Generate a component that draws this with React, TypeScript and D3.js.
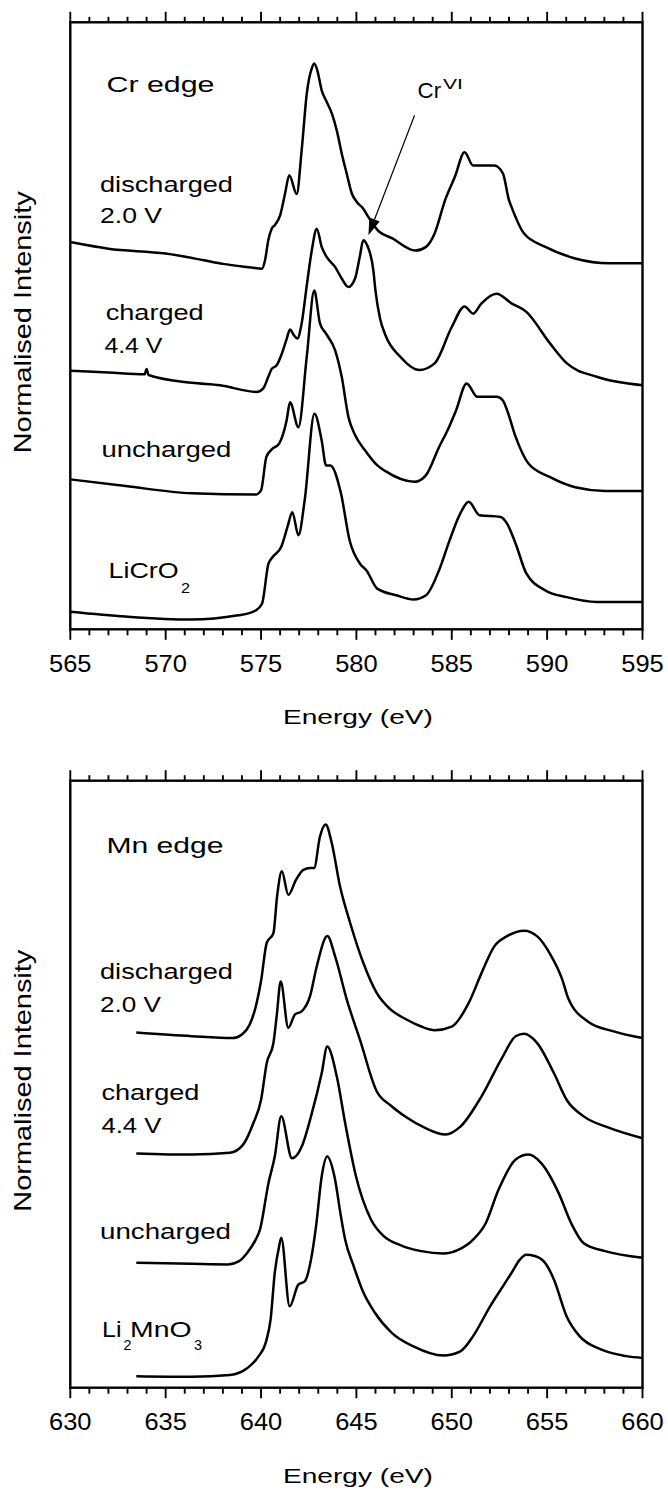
import React from 'react';
import * as d3 from 'd3';

type Pt = [number, number];

// Energy axis tick labels (eV)
const crEnergyTicks = [565, 570, 575, 580, 585, 590, 595];
const mnEnergyTicks = [630, 635, 640, 645, 650, 655, 660];

// Cr L-edge spectra: [energy (eV), normalised intensity, vertically offset]
const crDischarged: Pt[] = [
  [565, 6.38], [567, 6.27], [570, 6.19], [572, 6.08], [573, 6.02], [574.5, 5.96], [575.04, 5.94],
  [575.21, 6.08], [575.38, 6.41], [575.56, 6.6], [575.73, 6.66], [576.0, 6.82], [576.26, 7.18],
  [576.48, 7.48], [576.87, 7.17], [577.13, 7.89], [577.4, 8.83], [577.66, 9.24], [577.79, 9.32],
  [577.95, 9.21], [578.18, 8.88], [578.41, 8.71], [578.71, 8.5], [578.97, 8.22], [579.23, 7.84],
  [579.49, 7.51], [579.76, 7.18], [580.02, 7.04], [580.36, 6.93], [580.63, 6.79], [581.1, 6.58],
  [581.89, 6.44], [583.1, 6.24], [583.65, 6.3], [584.1, 6.52], [584.65, 7.07], [585.17, 7.46],
  [585.67, 7.86], [586.12, 7.64], [587.23, 7.64], [587.68, 7.51], [588.0, 7.07], [588.13, 6.96],
  [588.79, 6.52], [589.91, 6.3], [591.47, 6.11], [593.25, 6.03], [595, 6.03],
];

const crCharged: Pt[] = [
  [565, 4.26], [567, 4.23], [568.9, 4.2], [569.0, 4.29], [569.1, 4.19], [571.37, 4.06], [572.85, 4.02],
  [574.77, 3.91], [575.12, 3.97], [575.38, 4.16], [575.56, 4.29], [575.82, 4.35], [576.09, 4.54],
  [576.35, 4.79], [576.52, 4.94], [576.73, 4.84], [576.9, 4.79], [577.13, 5.04], [577.4, 5.67],
  [577.66, 6.24], [577.92, 6.6], [578.18, 6.3], [578.45, 6.13], [578.88, 5.97], [579.23, 5.78],
  [579.58, 5.64], [579.93, 5.78], [580.19, 6.16], [580.36, 6.41], [580.56, 6.33], [580.89, 5.91],
  [581.0, 5.58], [581.24, 5.12], [581.53, 4.84], [582.3, 4.49], [583.3, 4.27], [584.1, 4.38],
  [585.0, 4.98], [585.67, 5.32], [586.12, 5.2], [586.56, 5.37], [587.35, 5.53], [588.13, 5.37],
  [588.91, 5.23], [590.15, 4.71], [591.04, 4.38], [592.6, 4.16], [595, 4.02],
];

const crUncharged: Pt[] = [
  [565, 2.47], [567.9, 2.36], [571.37, 2.24], [574.72, 2.22], [575.0, 2.29], [575.28, 2.84],
  [575.55, 2.96], [575.95, 3.06], [576.34, 3.44], [576.52, 3.74], [576.96, 3.33], [577.4, 4.5],
  [577.79, 5.58], [578.09, 5.04], [578.41, 4.87], [578.88, 4.6], [579.23, 4.16], [579.58, 3.5],
  [579.93, 3.2], [580.45, 2.95], [581.1, 2.7], [581.5, 2.61], [583.06, 2.43], [583.65, 2.54],
  [584.33, 3.0], [584.78, 3.28], [585.23, 3.61], [585.78, 4.05], [586.34, 3.83], [587.35, 3.83],
  [587.68, 3.77], [587.9, 3.61], [588.35, 3.17], [589.02, 2.73], [590.13, 2.51], [591.47, 2.34],
  [593.03, 2.28], [595, 2.28],
];

const crLiCrO2: Pt[] = [
  [565, 0.29], [567.9, 0.21], [571.3, 0.16], [573.8, 0.23], [574.72, 0.31], [575.05, 0.42],
  [575.39, 1.08], [575.61, 1.19], [576.06, 1.36], [576.39, 1.69], [576.64, 1.93], [576.96, 1.55],
  [577.29, 2.13], [577.8, 3.55], [578.18, 3.11], [578.41, 2.7], [578.63, 2.7], [579.19, 2.24],
  [579.64, 1.47], [580.19, 1.08], [580.53, 0.97], [581.09, 0.67], [582.09, 0.56], [583.0, 0.49],
  [583.65, 0.56], [584.33, 0.97], [584.89, 1.47], [585.45, 1.91], [585.89, 2.1], [586.45, 1.88],
  [587.56, 1.85], [587.9, 1.74], [588.35, 1.41], [588.91, 0.92], [589.91, 0.64], [591.03, 0.53],
  [592.6, 0.45], [595, 0.45],
];

// Mn L-edge spectra: [energy (eV), normalised intensity, vertically offset]
const mnDischarged: Pt[] = [
  [633.46, 5.85], [636.37, 5.79], [638.5, 5.76], [639.0, 5.82], [639.4, 5.98], [639.7, 6.25],
  [640.0, 6.7], [640.3, 7.33], [640.65, 7.49], [640.84, 8.09], [641.09, 8.51],
  [641.43, 8.12], [641.84, 8.37], [642.22, 8.53], [642.57, 8.56], [642.78, 8.56], [643.09, 9.08],
  [643.39, 9.28], [643.71, 8.97], [644.14, 8.26], [644.67, 7.66], [645.36, 7.0], [646.07, 6.5],
  [646.76, 6.24], [647.6, 6.07], [648.4, 5.95], [649.1, 5.89], [650.0, 5.95], [650.89, 6.34],
  [651.56, 6.83], [652.23, 7.27], [652.9, 7.44], [653.79, 7.53], [654.47, 7.44], [655.13, 7.16],
  [655.8, 6.72], [656.1, 6.42], [657.15, 6.03], [658.49, 5.87], [660, 5.76],
];

const mnCharged: Pt[] = [
  [633.46, 3.86], [636.37, 3.84], [638.37, 3.87], [639.05, 4.0], [639.6, 4.36], [640.0, 4.74],
  [640.3, 5.35], [640.65, 5.68], [640.82, 6.12], [641.03, 6.69], [641.43, 5.93], [641.78, 6.15],
  [642.13, 6.2], [642.57, 6.45], [642.92, 6.94], [643.48, 7.44], [643.88, 7.11], [644.5, 6.39],
  [645.19, 5.73], [646.07, 4.88], [646.8, 4.65], [647.6, 4.46], [648.6, 4.28], [649.67, 4.17],
  [650.45, 4.3], [651.56, 4.8], [652.68, 5.46], [653.35, 5.79], [653.79, 5.83], [654.47, 5.68],
  [655.36, 5.18], [656.03, 4.74], [656.92, 4.47], [658.26, 4.28], [660, 4.11],
];

const mnUncharged: Pt[] = [
  [633.46, 2.06], [636.37, 2.04], [638.27, 2.03], [638.83, 2.08], [639.27, 2.22], [639.72, 2.44],
  [639.94, 2.6], [640.39, 3.37], [640.72, 3.81], [641.06, 4.47], [641.62, 3.78], [642.17, 4.0],
  [642.62, 4.47], [643.18, 5.18], [643.47, 5.62], [643.97, 5.13], [644.41, 4.36], [644.98, 3.48],
  [645.75, 2.78], [646.42, 2.5], [647.3, 2.35], [648.4, 2.25], [649.55, 2.21], [650.33, 2.27],
  [651.12, 2.44], [651.78, 2.71], [652.45, 3.26], [653.35, 3.76], [654.02, 3.84], [654.69, 3.7],
  [655.6, 3.21], [656.26, 2.71], [656.92, 2.38], [658.04, 2.25], [660, 2.14],
];

const mnLi2MnO3: Pt[] = [
  [633.46, 0.19], [636.37, 0.18], [638.37, 0.21], [639.27, 0.32], [639.83, 0.5], [640.28, 0.78],
  [640.5, 1.12], [640.72, 1.89], [640.95, 2.33], [641.06, 2.47], [641.5, 1.34], [641.96, 1.7],
  [642.29, 1.75], [642.62, 2.11], [642.9, 2.7], [643.18, 3.48], [643.47, 3.81], [643.85, 3.48],
  [644.19, 2.82], [644.41, 2.44], [644.86, 2.0], [645.31, 1.61], [645.98, 1.23], [646.87, 0.9],
  [647.99, 0.68], [649.55, 0.53], [650.45, 0.6], [651.12, 0.85], [652.01, 1.34], [652.68, 1.67],
  [653.13, 1.89], [653.57, 2.11], [653.9, 2.19], [654.35, 2.17], [654.91, 2.05], [655.36, 1.78],
  [656.03, 1.17], [656.7, 0.85], [657.82, 0.63], [659.16, 0.52], [660, 0.49],
];

// Cr(VI) pointer: from label to the pre-edge feature of the discharged spectrum
const crVIArrow = { from: [583.05, 8.47] as Pt, to: [580.63, 6.49] as Pt };

// ---- layout ----
const W = 668;
const H = 1492;
const LEFT = 70.3;
const RIGHT = 642.5;
const PANEL_H = 607;
const FONT = '"Liberation Sans", Arial, Helvetica, sans-serif';

interface Label {
  text: string;
  x: number;
  y: number;
  len: number;
  size?: number;
}

const crLabels: Label[] = [
  { text: 'Cr edge', x: 106.5, y: 69.4, len: 108 },
  { text: 'discharged', x: 100, y: 169.4, len: 133 },
  { text: '2.0 V', x: 100, y: 201, len: 62 },
  { text: 'charged', x: 105.7, y: 297.7, len: 98 },
  { text: '4.4 V', x: 104.4, y: 331, len: 58 },
  { text: 'uncharged', x: 101.4, y: 434.4, len: 130 },
  { text: 'LiCrO', x: 108.6, y: 556, len: 70 },
  { text: '2', x: 181, y: 570.4, len: 9, size: 15 },
  { text: 'Cr', x: 417.6, y: 76, len: 23.5 },
  { text: 'VI', x: 443, y: 67, len: 20, size: 15 },
];

const mnLabels: Label[] = [
  { text: 'Mn edge', x: 106.5, y: 72.6, len: 117 },
  { text: 'discharged', x: 100, y: 198.6, len: 133 },
  { text: '2.0 V', x: 100, y: 231, len: 61 },
  { text: 'charged', x: 101.4, y: 319.3, len: 98 },
  { text: '4.4 V', x: 101.4, y: 352.6, len: 60 },
  { text: 'uncharged', x: 100, y: 458.3, len: 131 },
  { text: 'Li', x: 102, y: 556, len: 19.5 },
  { text: '2', x: 123.6, y: 569.3, len: 8, size: 15 },
  { text: 'MnO', x: 130, y: 556, len: 61.5 },
  { text: '3', x: 193.9, y: 569.3, len: 8, size: 15 },
];

interface PanelProps {
  top: number;
  domain: [number, number];
  ticks: number[];
  spectra: Pt[][];
  labels: Label[];
  arrow?: { from: Pt; to: Pt };
}

function Panel({ top, domain, ticks, spectra, labels, arrow }: PanelProps) {
  const x = d3.scaleLinear().domain(domain).range([LEFT, RIGHT]);
  const y = d3.scaleLinear().domain([0, 10]).range([PANEL_H, 0]);
  const line = d3
    .line<Pt>()
    .x((d) => x(d[0]))
    .y((d) => y(d[1]))
    .curve(d3.curveMonotoneX);
  const minor = d3.range(domain[0], domain[1] + 0.5, 1);

  let arrowEl: React.ReactNode = null;
  if (arrow) {
    const x1 = x(arrow.from[0]);
    const y1 = y(arrow.from[1]);
    const x2 = x(arrow.to[0]);
    const y2 = y(arrow.to[1]);
    const ang = Math.atan2(y2 - y1, x2 - x1);
    const hl = 17;
    const hw = 5.5;
    const bx = x2 - hl * Math.cos(ang);
    const by = y2 - hl * Math.sin(ang);
    const px = -Math.sin(ang) * hw;
    const py = Math.cos(ang) * hw;
    arrowEl = (
      <g>
        <line x1={x1} y1={y1} x2={bx} y2={by} stroke="#000" strokeWidth={1.2} />
        <path d={`M${x2},${y2}L${bx + px},${by + py}L${bx - px},${by - py}Z`} fill="#000" />
      </g>
    );
  }

  return (
    <g transform={`translate(0,${top})`}>
      {spectra.map((s, i) => (
        <path key={i} d={line(s) ?? ''} fill="none" stroke="#000" strokeWidth={2.5} strokeLinejoin="round" />
      ))}
      <rect x={LEFT} y={0} width={RIGHT - LEFT} height={PANEL_H} fill="none" stroke="#000" strokeWidth={2.4} />
      {minor.map((v) => {
        const major = ticks.includes(v);
        return (
          <g key={v}>
            <line x1={x(v)} x2={x(v)} y1={0} y2={major ? -10.5 : -5.5} stroke="#000" strokeWidth={1.9} />
            <line x1={x(v)} x2={x(v)} y1={PANEL_H} y2={PANEL_H + (major ? 10.5 : 6)} stroke="#000" strokeWidth={1.9} />
          </g>
        );
      })}
      {ticks.map((v) => (
        <text
          key={v}
          x={x(v)}
          y={PANEL_H + 42.5}
          textAnchor="middle"
          fontSize={23.5}
          textLength={42.5}
          lengthAdjust="spacingAndGlyphs"
        >
          {v}
        </text>
      ))}
      <text
        x={(LEFT + RIGHT) / 2 + 1.5}
        y={702}
        textAnchor="middle"
        fontSize={21}
        textLength={150}
        lengthAdjust="spacingAndGlyphs"
      >
        Energy (eV)
      </text>
      <text
        transform={`translate(31,${300}) rotate(-90)`}
        textAnchor="middle"
        fontSize={24}
        textLength={262}
        lengthAdjust="spacingAndGlyphs"
      >
        Normalised Intensity
      </text>
      {labels.map((l, i) => (
        <text key={i} x={l.x} y={l.y} fontSize={l.size ?? 22} textLength={l.len} lengthAdjust="spacingAndGlyphs">
          {l.text}
        </text>
      ))}
      {arrowEl}
    </g>
  );
}

export default function App() {
  return (
    <svg
      width={W}
      height={H}
      viewBox={`0 0 ${W} ${H}`}
      style={{ position: 'absolute', left: 0, top: 0, background: '#fff', display: 'block' }}
      fontFamily={FONT}
      fill="#000"
    >
      <rect width={W} height={H} fill="#fff" />
      <Panel
        top={22.3}
        domain={[565, 595]}
        ticks={crEnergyTicks}
        spectra={[crDischarged, crCharged, crUncharged, crLiCrO2]}
        labels={crLabels}
        arrow={crVIArrow}
      />
      <Panel
        top={780.7}
        domain={[630, 660]}
        ticks={mnEnergyTicks}
        spectra={[mnDischarged, mnCharged, mnUncharged, mnLi2MnO3]}
        labels={mnLabels}
      />
    </svg>
  );
}
